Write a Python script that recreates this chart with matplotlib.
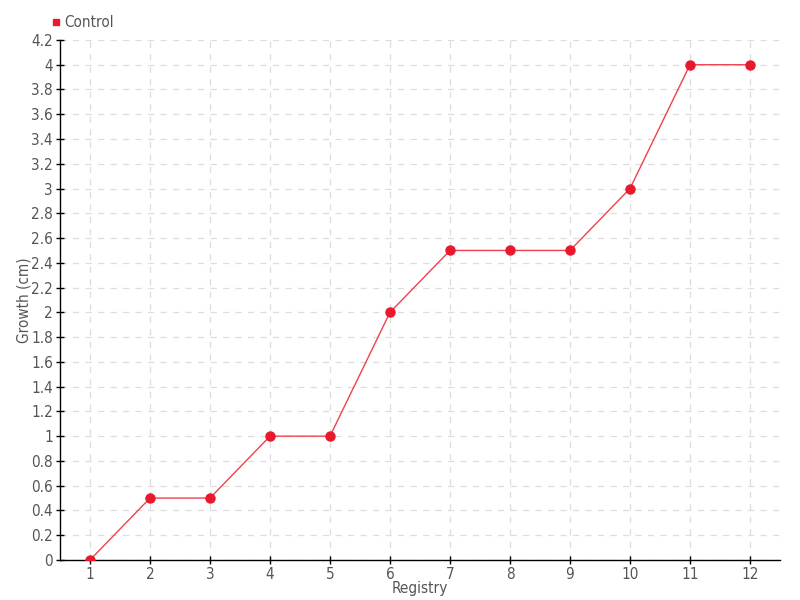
import matplotlib
matplotlib.use("Agg")
import matplotlib.pyplot as plt
from matplotlib.lines import Line2D

registry = [1, 2, 3, 4, 5, 6, 7, 8, 9, 10, 11, 12]
control = [0, 0.5, 0.5, 1, 1, 2, 2.5, 2.5, 2.5, 3, 4, 4]
y_ticks = [round(0.2 * i, 1) for i in range(22)]
y_labels = ["0" if v == 0 else ("%g" % v) for v in y_ticks]

plt.rcParams['font.family'] = ['DejaVu Sans']
plt.rcParams['font.stretch'] = 'condensed'

fig = plt.figure(figsize=(8, 6), dpi=100)
ax = fig.add_axes([0.075, 0.0667, 0.9, 0.8667])

red = '#e8192c'
ax.plot(registry, control, color='#f0404f', lw=1, zorder=3)
ax.plot(registry, control, 'o', color=red, ms=6.5, zorder=4)

ax.set_xlim(0.5, 12.5)
ax.set_ylim(0, 4.2)
ax.set_xticks(registry)
ax.set_xticklabels([str(r) for r in registry])
ax.set_yticks(y_ticks)
ax.set_yticklabels(y_labels)

ax.grid(True, color='#dddddd', ls=(0, (5, 5)), lw=0.9)
ax.set_axisbelow(True)
for s in ['top', 'right']:
    ax.spines[s].set_visible(False)
for s in ['left', 'bottom']:
    ax.spines[s].set_color('black')
    ax.spines[s].set_linewidth(1)

ax.tick_params(axis='both', direction='inout', length=6, width=1,
               labelsize=11, labelcolor='#555555', color='black', pad=2)

ax.set_xlabel('Registry', fontsize=11, color='#555555', labelpad=-1)
ax.set_ylabel('Growth (cm)', fontsize=11, color='#555555', labelpad=-0.5)

handle = Line2D([], [], marker='s', color=red, ls='none', ms=5)
fig.legend([handle], ['Control'], loc='upper left', bbox_to_anchor=(0.055, 0.985),
           frameon=False, fontsize=11, handletextpad=0.1, handlelength=0.8,
           labelcolor='#555555', borderaxespad=0)

fig.savefig('out.png', dpi=100)
